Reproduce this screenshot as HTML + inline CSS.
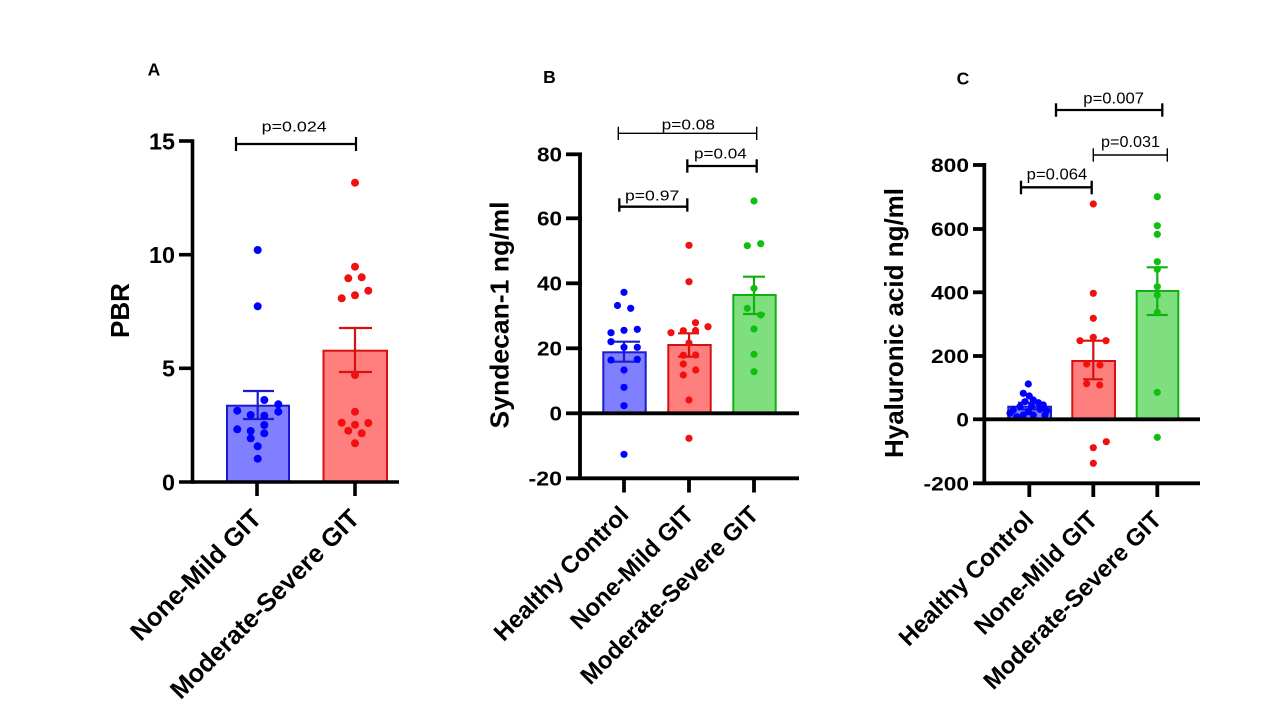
<!DOCTYPE html>
<html>
<head>
<meta charset="utf-8">
<style>
  html,body{margin:0;padding:0;background:#fff;}
  svg{display:block;}
  text{font-family:"Liberation Sans",Arial,sans-serif;fill:#000;}
  .tk{font-weight:bold;}
  .pv{font-weight:normal;}
</style>
</head>
<body>
<svg width="1280" height="720" viewBox="0 0 1280 720" xmlns="http://www.w3.org/2000/svg">
<rect x="0" y="0" width="1280" height="720" fill="#fff"/>

<!-- ================= PANEL A ================= -->
<text x="154" y="75.5" font-size="17.5" font-weight="bold" text-anchor="middle">A</text>
<rect x="227" y="405.7" width="62" height="76.3" fill="#7f7fff" stroke="#1a1ad0" stroke-width="2"/>
<rect x="323.5" y="350.7" width="63.5" height="131.3" fill="#ff7f7f" stroke="#d81010" stroke-width="2"/>
<g stroke="#1a1ad0" stroke-width="2.2" fill="none">
  <line x1="257.7" y1="391" x2="257.7" y2="419"/>
  <line x1="243" y1="391" x2="274" y2="391"/>
  <line x1="243" y1="419" x2="274" y2="419"/>
</g>
<g stroke="#d81010" stroke-width="2.2" fill="none">
  <line x1="355" y1="328" x2="355" y2="372"/>
  <line x1="339" y1="328" x2="372" y2="328"/>
  <line x1="339" y1="372" x2="372" y2="372"/>
</g>
<g fill="#0000ff">
  <circle cx="257.7" cy="250" r="4"/><circle cx="257.7" cy="306.3" r="4"/>
  <circle cx="264.3" cy="400" r="4"/><circle cx="278.3" cy="404.3" r="4"/>
  <circle cx="237.3" cy="410.7" r="4"/><circle cx="250.7" cy="415" r="4"/>
  <circle cx="264.3" cy="415.7" r="4"/><circle cx="278.3" cy="411.7" r="4"/>
  <circle cx="237.3" cy="429.3" r="4"/><circle cx="250.7" cy="431" r="4"/>
  <circle cx="264.3" cy="425" r="4"/><circle cx="264.3" cy="433.3" r="4"/>
  <circle cx="250.7" cy="438.3" r="4"/><circle cx="257.7" cy="446.3" r="4"/>
  <circle cx="257.7" cy="458.7" r="4"/>
</g>
<g fill="#f01010">
  <circle cx="355" cy="182.7" r="4"/><circle cx="355" cy="266.7" r="4"/>
  <circle cx="348.3" cy="278.3" r="4"/><circle cx="361.7" cy="277.3" r="4"/>
  <circle cx="368.3" cy="290.7" r="4"/><circle cx="341.7" cy="298.3" r="4"/>
  <circle cx="355" cy="295.3" r="4"/><circle cx="355" cy="375" r="4"/>
  <circle cx="355" cy="411.7" r="4"/><circle cx="341.7" cy="422.7" r="4"/>
  <circle cx="355" cy="424.7" r="4"/><circle cx="368.3" cy="423" r="4"/>
  <circle cx="348.3" cy="430.7" r="4"/><circle cx="361.7" cy="433.3" r="4"/>
  <circle cx="355" cy="443.3" r="4"/>
</g>
<g stroke="#000" stroke-width="3.6" fill="none" stroke-linecap="butt">
  <line x1="192.5" y1="139.5" x2="192.5" y2="483.8"/>
  <line x1="179" y1="482" x2="399" y2="482"/>
  <line x1="179" y1="141" x2="194" y2="141"/>
  <line x1="179" y1="254.7" x2="194" y2="254.7"/>
  <line x1="179" y1="368.3" x2="194" y2="368.3"/>
  <line x1="257" y1="482" x2="257" y2="496"/>
  <line x1="355" y1="482" x2="355" y2="496"/>
</g>
<g class="tk" font-size="23" text-anchor="end">
  <text x="175" y="149.3" textLength="26" lengthAdjust="spacingAndGlyphs">15</text>
  <text x="175" y="263" textLength="26" lengthAdjust="spacingAndGlyphs">10</text>
  <text x="175" y="376.6" textLength="13" lengthAdjust="spacingAndGlyphs">5</text>
  <text x="175" y="490.3" textLength="13" lengthAdjust="spacingAndGlyphs">0</text>
</g>
<text x="129" y="310.5" font-size="26" font-weight="bold" text-anchor="middle" transform="rotate(-90 129 310.5)">PBR</text>
<g stroke="#000" stroke-width="2.2" fill="none">
  <line x1="236" y1="144" x2="356" y2="144"/>
  <line x1="236" y1="137" x2="236" y2="151"/>
  <line x1="356" y1="137" x2="356" y2="151"/>
</g>
<text class="pv" x="261.7" y="131.5" font-size="15" textLength="65" lengthAdjust="spacingAndGlyphs">p=0.024</text>
<g class="tk" font-size="25.5" text-anchor="end">
  <text x="263" y="520" transform="rotate(-45 263 520)">None-Mild GIT</text>
  <text x="361" y="520" transform="rotate(-45 361 520)">Moderate-Severe GIT</text>
</g>

<!-- ================= PANEL B ================= -->
<text x="549.5" y="83" font-size="17.5" font-weight="bold" text-anchor="middle">B</text>
<rect x="603.3" y="352.3" width="42.4" height="61" fill="#7f7fff" stroke="#1a1ad0" stroke-width="2"/>
<rect x="668.3" y="345" width="42.4" height="68.3" fill="#ff7f7f" stroke="#d81010" stroke-width="2"/>
<rect x="733.3" y="295" width="42.4" height="118.3" fill="#7fdf7f" stroke="#10b010" stroke-width="2"/>
<g stroke="#1a1ad0" stroke-width="2.2">
  <line x1="624" y1="341.7" x2="624" y2="361.7"/>
  <line x1="608" y1="341.7" x2="640" y2="341.7"/>
  <line x1="608" y1="361.7" x2="640" y2="361.7"/>
</g>
<g stroke="#d81010" stroke-width="2.2">
  <line x1="689" y1="333.3" x2="689" y2="356.7"/>
  <line x1="678" y1="333.3" x2="699" y2="333.3"/>
  <line x1="678" y1="356.7" x2="699" y2="356.7"/>
</g>
<g stroke="#10b010" stroke-width="2.2">
  <line x1="754" y1="276.7" x2="754" y2="314"/>
  <line x1="743" y1="276.7" x2="765" y2="276.7"/>
  <line x1="743" y1="314" x2="765" y2="314"/>
</g>
<g fill="#0000ff">
  <circle cx="624" cy="292.3" r="3.6"/><circle cx="617.5" cy="305.5" r="3.6"/>
  <circle cx="630.7" cy="308.3" r="3.6"/><circle cx="611" cy="332.7" r="3.6"/>
  <circle cx="624" cy="330.3" r="3.6"/><circle cx="637.3" cy="329.3" r="3.6"/>
  <circle cx="611" cy="341.7" r="3.6"/><circle cx="624" cy="347.3" r="3.6"/>
  <circle cx="637.3" cy="347.3" r="3.6"/><circle cx="611" cy="360" r="3.6"/>
  <circle cx="637.3" cy="359.3" r="3.6"/><circle cx="624" cy="370" r="3.6"/>
  <circle cx="624" cy="387.3" r="3.6"/><circle cx="624" cy="405.7" r="3.6"/>
  <circle cx="624" cy="454.3" r="3.6"/>
</g>
<g fill="#f01010">
  <circle cx="689" cy="245.3" r="3.6"/><circle cx="689" cy="281.7" r="3.6"/>
  <circle cx="695.5" cy="322.7" r="3.6"/><circle cx="708" cy="326.7" r="3.6"/>
  <circle cx="671" cy="332.7" r="3.6"/><circle cx="683.3" cy="330.7" r="3.6"/>
  <circle cx="695.5" cy="330.5" r="3.6"/><circle cx="689" cy="343" r="3.6"/>
  <circle cx="683.3" cy="355.2" r="3.6"/><circle cx="695.7" cy="355" r="3.6"/>
  <circle cx="683.3" cy="364" r="3.6"/><circle cx="695.7" cy="370" r="3.6"/>
  <circle cx="683.3" cy="375" r="3.6"/><circle cx="689" cy="400" r="3.6"/>
  <circle cx="689" cy="438.3" r="3.6"/>
</g>
<g fill="#10c010">
  <circle cx="754" cy="201" r="3.6"/><circle cx="747.3" cy="245.7" r="3.6"/>
  <circle cx="760.7" cy="243.7" r="3.6"/><circle cx="754" cy="288.3" r="3.6"/>
  <circle cx="747.3" cy="308.3" r="3.6"/><circle cx="760.7" cy="315" r="3.6"/>
  <circle cx="754" cy="329" r="3.6"/><circle cx="754" cy="354.3" r="3.6"/>
  <circle cx="754" cy="371.7" r="3.6"/>
</g>
<g stroke="#000" stroke-width="3.8" fill="none">
  <line x1="580" y1="152.5" x2="580" y2="480"/>
  <line x1="580" y1="413.3" x2="799" y2="413.3"/>
  <line x1="566" y1="478.3" x2="799" y2="478.3"/>
  <line x1="566" y1="154.3" x2="582" y2="154.3"/>
  <line x1="566" y1="218.3" x2="582" y2="218.3"/>
  <line x1="566" y1="283.3" x2="582" y2="283.3"/>
  <line x1="566" y1="348.3" x2="582" y2="348.3"/>
  <line x1="566" y1="413.3" x2="582" y2="413.3"/>
  <line x1="624" y1="478" x2="624" y2="492.5"/>
  <line x1="689" y1="478" x2="689" y2="492.5"/>
  <line x1="754" y1="478" x2="754" y2="492.5"/>
</g>
<g class="tk" font-size="20" text-anchor="end">
  <text x="562" y="161.5" textLength="25" lengthAdjust="spacingAndGlyphs">80</text>
  <text x="562" y="225.5" textLength="25" lengthAdjust="spacingAndGlyphs">60</text>
  <text x="562" y="290.5" textLength="25" lengthAdjust="spacingAndGlyphs">40</text>
  <text x="562" y="355.5" textLength="25" lengthAdjust="spacingAndGlyphs">20</text>
  <text x="562" y="420.5" textLength="12.5" lengthAdjust="spacingAndGlyphs">0</text>
  <text x="562" y="485.5" textLength="33.5" lengthAdjust="spacingAndGlyphs">-20</text>
</g>
<text x="508.5" y="315" font-size="26" font-weight="bold" text-anchor="middle" transform="rotate(-90 508.5 315)" textLength="227" lengthAdjust="spacingAndGlyphs">Syndecan-1 ng/ml</text>
<g stroke="#000" fill="none">
  <line x1="618.3" y1="133.3" x2="756.7" y2="133.3" stroke-width="1.4"/>
  <line x1="618.3" y1="126.7" x2="618.3" y2="140" stroke-width="1.4"/>
  <line x1="756.7" y1="126.7" x2="756.7" y2="140" stroke-width="1.4"/>
  <line x1="687.3" y1="166" x2="756.7" y2="166" stroke-width="2.3"/>
  <line x1="687.3" y1="159.3" x2="687.3" y2="172.7" stroke-width="2.3"/>
  <line x1="756.7" y1="159.3" x2="756.7" y2="172.7" stroke-width="2.3"/>
  <line x1="619.3" y1="206.7" x2="687.3" y2="206.7" stroke-width="2.3"/>
  <line x1="619.3" y1="198.3" x2="619.3" y2="211.7" stroke-width="2.3"/>
  <line x1="687.3" y1="198.3" x2="687.3" y2="211.7" stroke-width="2.3"/>
</g>
<g class="pv" font-size="15">
  <text x="661.7" y="129.3" textLength="53.3" lengthAdjust="spacingAndGlyphs">p=0.08</text>
  <text x="694" y="158.3" textLength="52.7" lengthAdjust="spacingAndGlyphs">p=0.04</text>
  <text x="625" y="200.7" textLength="54.3" lengthAdjust="spacingAndGlyphs">p=0.97</text>
</g>
<g class="tk" font-size="24" text-anchor="end">
  <text x="630" y="516" transform="rotate(-45 630 516)">Healthy Control</text>
  <text x="695" y="516" transform="rotate(-45 695 516)">None-Mild GIT</text>
  <text x="760" y="516" transform="rotate(-45 760 516)">Moderate-Severe GIT</text>
</g>

<!-- ================= PANEL C ================= -->
<text x="963" y="84.5" font-size="17.5" font-weight="bold" text-anchor="middle">C</text>
<rect x="1008.3" y="406.7" width="42.7" height="12.6" fill="#7f7fff" stroke="#1a1ad0" stroke-width="2"/>
<rect x="1072.3" y="361" width="42.7" height="58.3" fill="#ff7f7f" stroke="#d81010" stroke-width="2"/>
<rect x="1136.7" y="291" width="41.6" height="128.3" fill="#7fdf7f" stroke="#10b010" stroke-width="2"/>
<g stroke="#1a1ad0" stroke-width="2.2">
  <line x1="1029.3" y1="402.7" x2="1029.3" y2="409.3"/>
  <line x1="1018" y1="402.7" x2="1040" y2="402.7"/>
  <line x1="1018" y1="409.3" x2="1040" y2="409.3"/>
</g>
<g stroke="#d81010" stroke-width="2.2">
  <line x1="1093.3" y1="340.7" x2="1093.3" y2="379.3"/>
  <line x1="1083" y1="340.7" x2="1103" y2="340.7"/>
  <line x1="1083" y1="379.3" x2="1103" y2="379.3"/>
</g>
<g stroke="#10b010" stroke-width="2.2">
  <line x1="1157.3" y1="267.3" x2="1157.3" y2="315"/>
  <line x1="1146.7" y1="267.3" x2="1167.7" y2="267.3"/>
  <line x1="1146.7" y1="315" x2="1167.7" y2="315"/>
</g>
<g fill="#0000ff">
  <circle cx="1028.3" cy="384" r="3.6"/><circle cx="1023.3" cy="393.3" r="3.6"/>
  <circle cx="1029.3" cy="396" r="3.6"/><circle cx="1033.3" cy="400" r="3.6"/>
  <circle cx="1025" cy="401.7" r="3.6"/><circle cx="1038.3" cy="402.7" r="3.6"/>
  <circle cx="1043.3" cy="405" r="3.6"/><circle cx="1020" cy="406.7" r="3.6"/>
  <circle cx="1031.7" cy="406" r="3.6"/><circle cx="1013.3" cy="410" r="3.6"/>
  <circle cx="1028.3" cy="411.7" r="3.6"/><circle cx="1040" cy="409.3" r="3.6"/>
  <circle cx="1046.7" cy="410.7" r="3.6"/><circle cx="1010" cy="413.3" r="3.6"/>
  <circle cx="1023.3" cy="415" r="3.6"/><circle cx="1033.3" cy="415" r="3.6"/>
  <circle cx="1045" cy="415" r="3.6"/><circle cx="1016.7" cy="416.7" r="3.6"/>
</g>
<g fill="#f01010">
  <circle cx="1093.3" cy="204" r="3.6"/><circle cx="1093.3" cy="293.3" r="3.6"/>
  <circle cx="1093.3" cy="318.3" r="3.6"/><circle cx="1080" cy="340.7" r="3.6"/>
  <circle cx="1093.3" cy="337.3" r="3.6"/><circle cx="1106" cy="340.7" r="3.6"/>
  <circle cx="1086.7" cy="364" r="3.6"/><circle cx="1100" cy="365" r="3.6"/>
  <circle cx="1086.7" cy="383.7" r="3.6"/><circle cx="1099.7" cy="385" r="3.6"/>
  <circle cx="1106.3" cy="441.7" r="3.6"/><circle cx="1093.3" cy="447.7" r="3.6"/>
  <circle cx="1093.3" cy="463.3" r="3.6"/>
</g>
<g fill="#10c010">
  <circle cx="1157.3" cy="196.7" r="3.6"/><circle cx="1157.3" cy="225.7" r="3.6"/>
  <circle cx="1157.3" cy="234.3" r="3.6"/><circle cx="1157.3" cy="261.7" r="3.6"/>
  <circle cx="1157.3" cy="269.3" r="3.6"/><circle cx="1157.3" cy="286.7" r="3.6"/>
  <circle cx="1157.3" cy="295" r="3.6"/><circle cx="1157.3" cy="312.3" r="3.6"/>
  <circle cx="1157.3" cy="392.3" r="3.6"/><circle cx="1157.3" cy="437.3" r="3.6"/>
</g>
<g stroke="#000" stroke-width="3.8" fill="none">
  <line x1="984.3" y1="163" x2="984.3" y2="485"/>
  <line x1="984.3" y1="419.3" x2="1200" y2="419.3"/>
  <line x1="973" y1="483.3" x2="1200" y2="483.3"/>
  <line x1="973" y1="165" x2="986" y2="165"/>
  <line x1="973" y1="229" x2="986" y2="229"/>
  <line x1="973" y1="292.3" x2="986" y2="292.3"/>
  <line x1="973" y1="356" x2="986" y2="356"/>
  <line x1="973" y1="419.3" x2="986" y2="419.3"/>
  <line x1="1029.3" y1="483" x2="1029.3" y2="497"/>
  <line x1="1093.3" y1="483" x2="1093.3" y2="497"/>
  <line x1="1157.3" y1="483" x2="1157.3" y2="497"/>
</g>
<g class="tk" font-size="19.5" text-anchor="end">
  <text x="969" y="172" textLength="38" lengthAdjust="spacingAndGlyphs">800</text>
  <text x="969" y="236" textLength="38" lengthAdjust="spacingAndGlyphs">600</text>
  <text x="969" y="299.3" textLength="38" lengthAdjust="spacingAndGlyphs">400</text>
  <text x="969" y="363" textLength="38" lengthAdjust="spacingAndGlyphs">200</text>
  <text x="969" y="426.3" textLength="12.7" lengthAdjust="spacingAndGlyphs">0</text>
  <text x="969" y="490.3" textLength="45.5" lengthAdjust="spacingAndGlyphs">-200</text>
</g>
<text x="903" y="323" font-size="26" font-weight="bold" text-anchor="middle" transform="rotate(-90 903 323)" textLength="270" lengthAdjust="spacingAndGlyphs">Hyaluronic acid ng/ml</text>
<g stroke="#000" fill="none">
  <line x1="1056" y1="110" x2="1162.3" y2="110" stroke-width="2.3"/>
  <line x1="1056" y1="103.3" x2="1056" y2="116.7" stroke-width="2.3"/>
  <line x1="1162.3" y1="103.3" x2="1162.3" y2="116.7" stroke-width="2.3"/>
  <line x1="1093.3" y1="155" x2="1167.3" y2="155" stroke-width="1.4"/>
  <line x1="1093.3" y1="148.3" x2="1093.3" y2="161.7" stroke-width="1.4"/>
  <line x1="1167.3" y1="148.3" x2="1167.3" y2="161.7" stroke-width="1.4"/>
  <line x1="1021" y1="187.3" x2="1091.7" y2="187.3" stroke-width="2.3"/>
  <line x1="1021" y1="180.7" x2="1021" y2="194.3" stroke-width="2.3"/>
  <line x1="1091.7" y1="180.7" x2="1091.7" y2="194.3" stroke-width="2.3"/>
</g>
<g class="pv" font-size="15.5">
  <text x="1083.3" y="103.5" textLength="60.7" lengthAdjust="spacingAndGlyphs">p=0.007</text>
  <text x="1101" y="147" textLength="59" lengthAdjust="spacingAndGlyphs">p=0.031</text>
  <text x="1026.7" y="179.5" textLength="60.6" lengthAdjust="spacingAndGlyphs">p=0.064</text>
</g>
<g class="tk" font-size="24" text-anchor="end">
  <text x="1035" y="521" transform="rotate(-45 1035 521)">Healthy Control</text>
  <text x="1099" y="521" transform="rotate(-45 1099 521)">None-Mild GIT</text>
  <text x="1163" y="521" transform="rotate(-45 1163 521)">Moderate-Severe GIT</text>
</g>
</svg>
</body>
</html>
